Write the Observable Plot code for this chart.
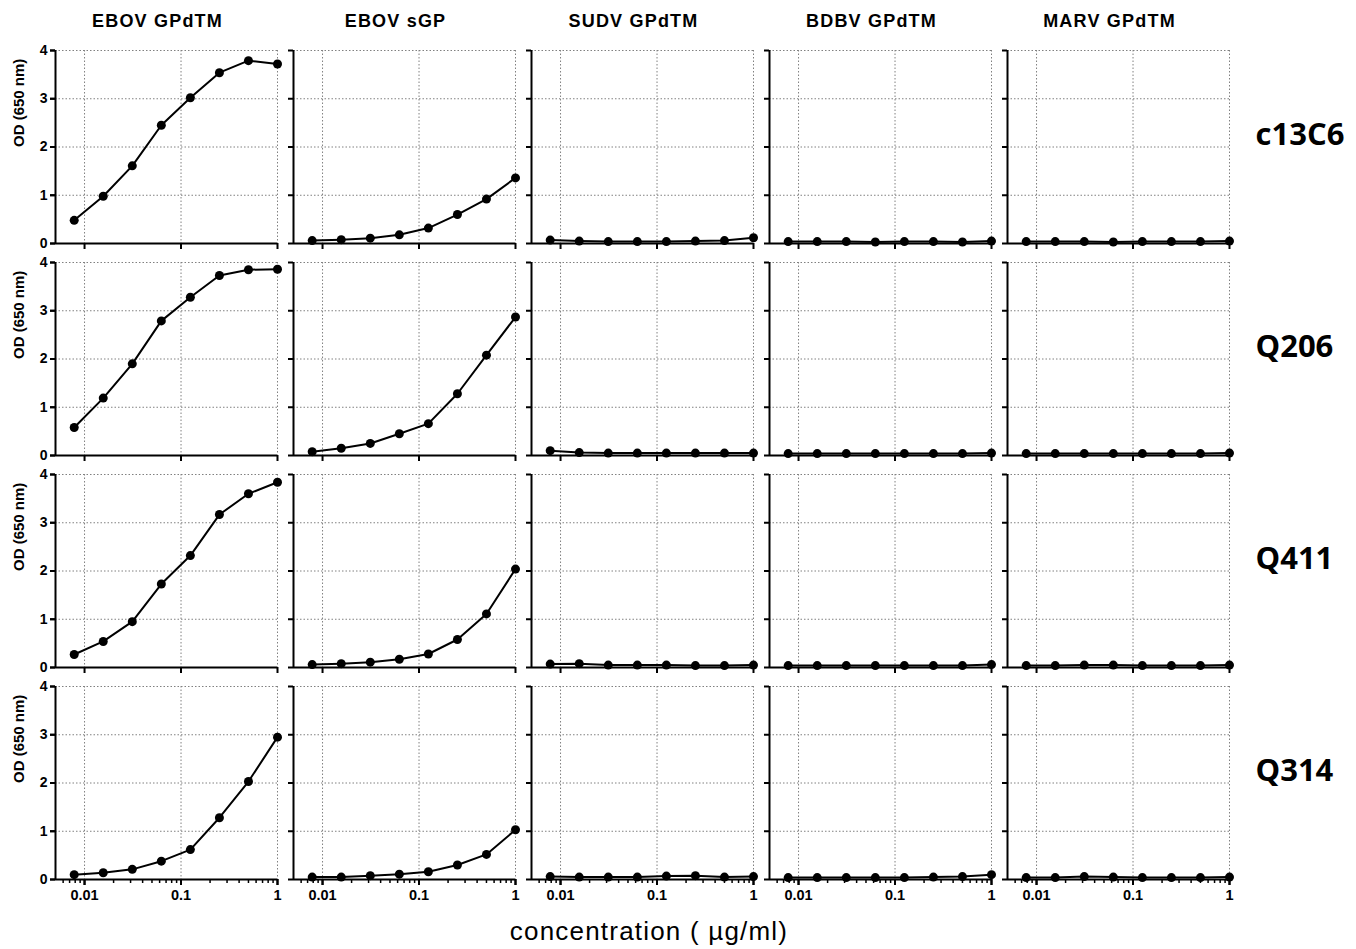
<!DOCTYPE html>
<html><head><meta charset="utf-8">
<script src="https://cdn.jsdelivr.net/npm/d3@7"></script>
<script src="https://cdn.jsdelivr.net/npm/@observablehq/plot@0.6"></script>
<style>
body{margin:0;background:#fff;font-family:Arial,"Liberation Sans",sans-serif;}
#wrap{position:relative;width:1356px;height:949px;}
#xlabel{position:absolute;left:0;width:1298px;top:916px;line-height:30px;text-align:center;font-size:26px;letter-spacing:1.2px;color:#000;}
g[aria-label="fx-axis tick label"] text{letter-spacing:1.2px;}
g[aria-label="y-axis tick label"]{font-size:14px;font-weight:bold;}
g[aria-label="x-axis tick label"]{font-size:14.5px;font-weight:bold;}
</style></head><body>
<div id="wrap"><div id="chart"></div><div id="xlabel">concentration ( µg/ml)</div></div>
<script>
const concentrations = [0.0078125, 0.015625, 0.03125, 0.0625, 0.125, 0.25, 0.5, 1];
const antigens = ["EBOV GPdTM", "EBOV sGP", "SUDV GPdTM", "BDBV GPdTM", "MARV GPdTM"];
const antibodies = ["c13C6", "Q206", "Q411", "Q314"];
const c13C6 = [
  [0.48, 0.98, 1.61, 2.45, 3.02, 3.54, 3.79, 3.72],
  [0.06, 0.08, 0.11, 0.18, 0.32, 0.60, 0.92, 1.36],
  [0.07, 0.05, 0.04, 0.04, 0.04, 0.05, 0.06, 0.12],
  [0.04, 0.04, 0.04, 0.03, 0.04, 0.04, 0.03, 0.05],
  [0.04, 0.04, 0.04, 0.03, 0.04, 0.04, 0.04, 0.05]
];
const Q206 = [
  [0.58, 1.19, 1.90, 2.79, 3.28, 3.73, 3.85, 3.86],
  [0.08, 0.15, 0.25, 0.45, 0.66, 1.28, 2.08, 2.87],
  [0.10, 0.06, 0.05, 0.05, 0.05, 0.05, 0.05, 0.05],
  [0.04, 0.04, 0.04, 0.04, 0.04, 0.04, 0.04, 0.05],
  [0.04, 0.04, 0.04, 0.04, 0.04, 0.04, 0.04, 0.05]
];
const Q411 = [
  [0.27, 0.54, 0.95, 1.73, 2.32, 3.17, 3.60, 3.84],
  [0.06, 0.08, 0.11, 0.17, 0.28, 0.58, 1.11, 2.04],
  [0.07, 0.08, 0.05, 0.05, 0.05, 0.04, 0.04, 0.05],
  [0.04, 0.04, 0.04, 0.04, 0.04, 0.04, 0.04, 0.06],
  [0.04, 0.04, 0.05, 0.05, 0.04, 0.04, 0.04, 0.05]
];
const Q314 = [
  [0.10, 0.14, 0.21, 0.38, 0.62, 1.28, 2.03, 2.95],
  [0.05, 0.05, 0.08, 0.11, 0.16, 0.30, 0.52, 1.03],
  [0.06, 0.05, 0.05, 0.05, 0.07, 0.08, 0.05, 0.06],
  [0.04, 0.04, 0.04, 0.04, 0.04, 0.05, 0.06, 0.10],
  [0.04, 0.04, 0.06, 0.05, 0.04, 0.04, 0.04, 0.05]
];
const yTicks = [0, 1, 2, 3, 4];
const yGrid = [1, 2, 3, 4];
const xTicks = [0.01, 0.1, 1];
const xMinor = [0.006, 0.007, 0.008, 0.009, 0.02, 0.03, 0.04, 0.05, 0.06, 0.07, 0.08, 0.09, 0.2, 0.3, 0.4, 0.5, 0.6, 0.7, 0.8, 0.9];
const xDomain = [0.005, 1];
const yDomain = [0, 4];
const yLabel = "OD (650 nm)";

const series = [c13C6, Q206, Q411, Q314];
const data = [];
antibodies.forEach((ab, i) => series[i].forEach((vals, j) => vals.forEach((v, k) => {
  data.push({antibody: ab, antigen: antigens[j], conc: concentrations[k], od: v});
})));

const blank = () => "";
const plain = d => String(d);
const plot = Plot.plot({
  width: 1356, height: 910,
  marginLeft: 55, marginRight: 127, marginTop: 50, marginBottom: 31,
  style: {fontFamily: "Arial, 'Liberation Sans', sans-serif", color: "#000", background: "#fff", overflow: "visible"},
  fx: {domain: antigens, paddingInner: 16 / 238, paddingOuter: 0, round: false, label: null},
  fy: {domain: antibodies, paddingInner: 19 / 212, paddingOuter: 0, round: false, label: null},
  x: {type: "log", domain: xDomain},
  y: {domain: yDomain},
  marks: [
    Plot.gridX({ticks: xTicks, stroke: "#808080", strokeOpacity: 1, strokeDasharray: "1.5,2", facetAnchor: null}),
    Plot.gridY({ticks: yGrid, stroke: "#808080", strokeOpacity: 1, strokeDasharray: "1.5,2", facetAnchor: null}),
    Plot.ruleY([yDomain[0]], {stroke: "#000", strokeWidth: 2}),
    Plot.ruleX([xDomain[0]], {stroke: "#000", strokeWidth: 2}),
    Plot.axisY({ticks: yTicks, tickSize: 5, strokeWidth: 2, tickFormat: blank, label: null, facetAnchor: null}),
    Plot.axisY({ticks: yTicks, tickSize: 5, strokeWidth: 2, tickPadding: 3, fontSize: 14, fontWeight: "bold", tickFormat: plain, label: null, facetAnchor: "left"}),
    Plot.axisX({ticks: xTicks, tickSize: 6, strokeWidth: 2, tickFormat: blank, label: null, facetAnchor: null}),
    Plot.axisX({ticks: xMinor, tickSize: 4, strokeWidth: 1.5, tickFormat: blank, label: null, facetAnchor: "bottom"}),
    Plot.axisX({ticks: xTicks, tickSize: 6, strokeWidth: 2, tickPadding: 4, fontSize: 14.5, fontWeight: "bold", tickFormat: plain, label: null, facetAnchor: "bottom"}),
    Plot.axisFx({anchor: "top", tickSize: 0, tickPadding: 24, fontSize: 18, fontWeight: "bold", dx: -9, label: null}),
    Plot.axisFy({anchor: "right", tickSize: 0, tickPadding: 26, fontSize: 31, fontWeight: "bold", fontFamily: "'Open Sans', sans-serif", textAnchor: "start", dy: -12, label: null}),
    Plot.text(antibodies, {fx: () => antigens[0], fy: d => d, text: () => yLabel, frameAnchor: "left", rotate: -90, dx: -36, fontSize: 15, fontWeight: "bold"}),
    Plot.line(data, {fx: "antigen", fy: "antibody", x: "conc", y: "od", stroke: "#000", strokeWidth: 2}),
    Plot.dot(data, {fx: "antigen", fy: "antibody", x: "conc", y: "od", r: 4.5, fill: "#000", stroke: "none"})
  ]
});
document.getElementById("chart").appendChild(plot);
</script>
</body></html>
